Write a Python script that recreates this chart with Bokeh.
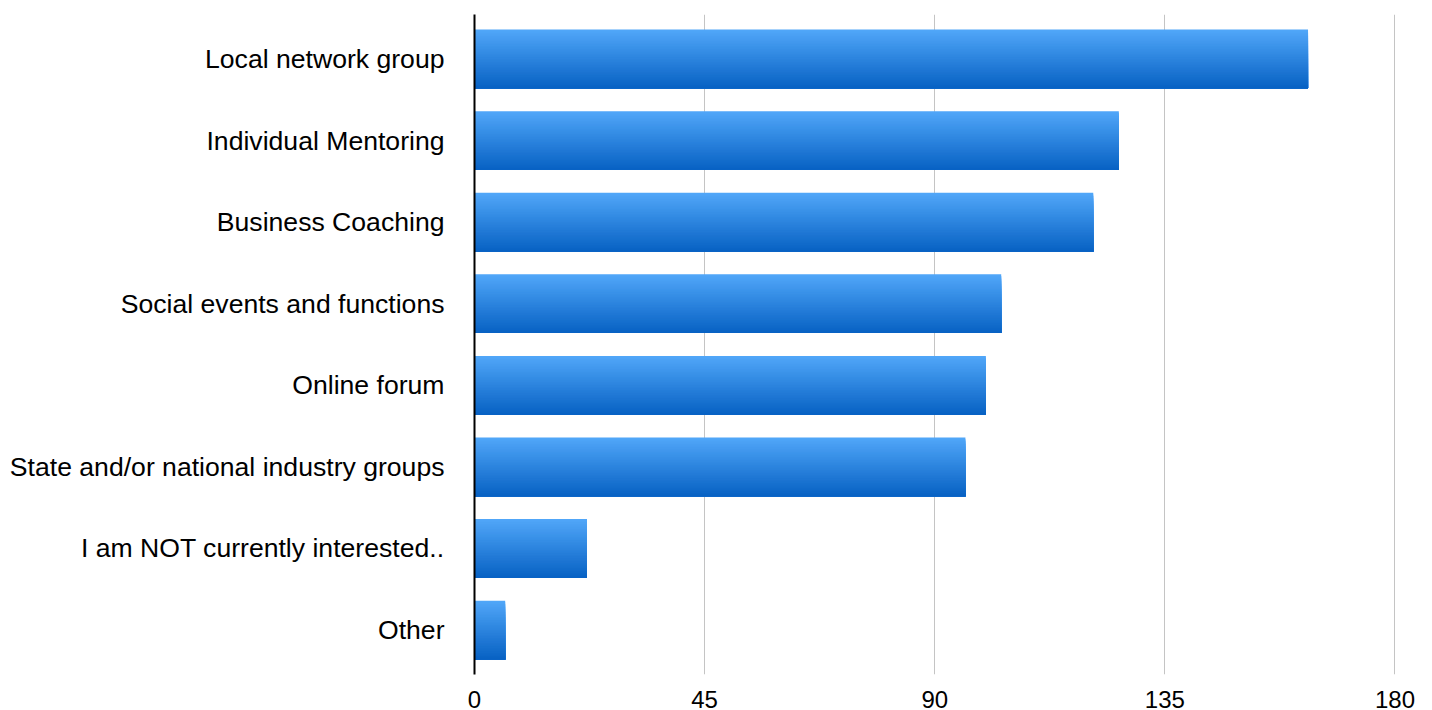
from bokeh.plotting import figure
from bokeh.models import ColumnDataSource, FactorRange, Range1d, FixedTicker
from bokeh.transform import dodge
from bokeh.embed import file_html
from bokeh.resources import INLINE

categories = [
    "Local network group",
    "Individual Mentoring",
    "Business Coaching",
    "Social events and functions",
    "Online forum",
    "State and/or national industry groups",
    "I am NOT currently interested..",
    "Other",
]
values = [163, 126, 121, 103, 100, 96, 22, 6]
x_ticks = [0, 45, 90, 135, 180]

source = ColumnDataSource(data=dict(cat=categories, val=values))

p = figure(
    width=1432, height=710,
    y_range=FactorRange(factors=categories[::-1], range_padding=0.045, range_padding_units="absolute"),
    x_range=Range1d(0, 180.3),
    output_backend="svg", toolbar_location=None,
    min_border_left=474, min_border_right=36, min_border_top=14, min_border_bottom=0,
)
p.outline_line_color = None
p.background_fill_color = "white"

# gradient bars: light top -> dark bottom, drawn as nested slices anchored at bar bottom
top_rgb = (0x50, 0xA6, 0xF8)
bot_rgb = (0x08, 0x62, 0xC4)
bar_h = 0.72
N = 36
for i in range(N):
    frac = 1 - i / N  # fraction of bar height covered, from bottom
    t = i / (N - 1)
    c = tuple(int(round(top_rgb[k] + (bot_rgb[k] - top_rgb[k]) * t)) for k in range(3))
    col = "#%02x%02x%02x" % c
    h = bar_h * frac
    off = -bar_h / 2 + h / 2
    p.hbar(y=dodge("cat", off, range=p.y_range), right="val", left=0, height=h,
           source=source, fill_color=col, line_color=None)

p.xaxis.ticker = FixedTicker(ticks=x_ticks)
p.xaxis.axis_line_color = None
p.xaxis.major_tick_line_color = None
p.xaxis.minor_tick_line_color = None
p.xaxis.major_label_standoff = 10
p.xaxis.major_label_text_font = "Liberation Sans"
p.xaxis.major_label_text_font_size = "24px"
p.xaxis.major_label_text_color = "black"

p.yaxis.axis_line_color = "black"
p.yaxis.axis_line_width = 2
p.yaxis.major_tick_line_color = None
p.yaxis.minor_tick_line_color = None
p.yaxis.major_label_standoff = 24
p.yaxis.major_label_text_font = "Liberation Sans"
p.yaxis.major_label_text_font_size = "26.6px"
p.yaxis.major_label_text_color = "black"

p.xgrid.ticker = FixedTicker(ticks=x_ticks[1:])
p.xgrid.grid_line_color = "#c4c4c4"
p.xgrid.grid_line_width = 1
p.ygrid.grid_line_color = None

open("out.html", "w").write(file_html(p, INLINE))
